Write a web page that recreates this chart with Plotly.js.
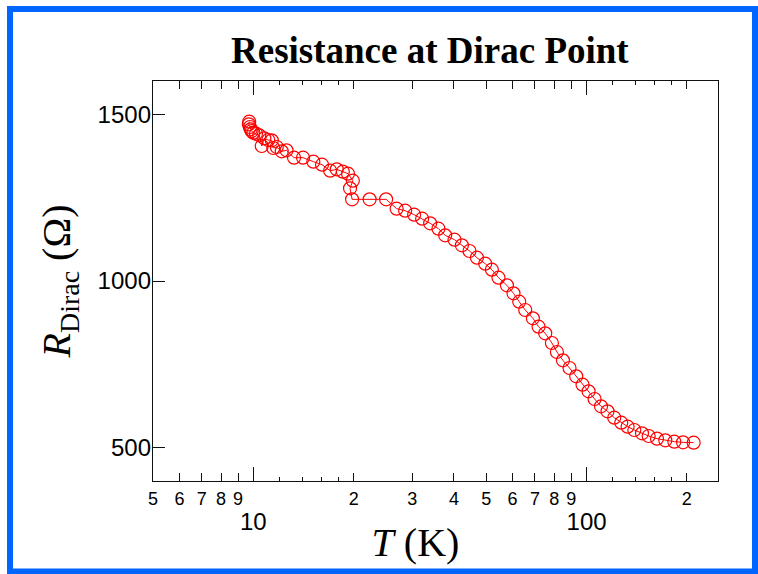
<!DOCTYPE html>
<html>
<head>
<meta charset="utf-8">
<script src="https://cdn.plot.ly/plotly-3.0.1.min.js"></script>
<style>html,body{margin:0;padding:0;background:#fff;}#chart{width:758px;height:574px;}</style>
</head>
<body>
<div id="chart"></div>
<script>
// Temperature (K)
const temperature = [9.72, 9.70, 9.77, 9.82, 9.89, 10.0, 10.19, 10.42, 10.60, 10.79, 11.09, 11.36, 11.48, 11.76, 12.17, 12.58, 13.25, 14.10, 15.14, 16.08, 17.00, 17.80, 18.56, 19.24, 19.89, 19.51, 19.79, 22.34, 25.03, 26.92, 28.55, 30.38, 32.11, 33.94, 35.94, 37.65, 40.15, 42.26, 44.54, 46.88, 49.65, 51.99, 54.42, 57.68, 60.37, 62.80, 65.46, 69.02, 71.76, 75.16, 78.72, 81.49, 84.94, 88.90, 93.11, 97.27, 101.4, 105.7, 110.5, 115.6, 121.1, 127.1, 132.8, 139.1, 146.7, 153.6, 162.7, 172.3, 183.4, 194.8, 209.6];
// Resistance at Dirac point (Ohm)
const resistance = [1478, 1470, 1462, 1455, 1450, 1445, 1442, 1437, 1405, 1428, 1423, 1422, 1399, 1402, 1389, 1392, 1370, 1370, 1358, 1349, 1331, 1335, 1328, 1322, 1301, 1278, 1245, 1245, 1245, 1217, 1211, 1199, 1187, 1173, 1157, 1137, 1124, 1107, 1090, 1070, 1052, 1034, 1010, 987, 963, 938, 913, 888, 863, 843, 814, 787, 762, 739, 714, 689, 669, 646, 624, 609, 590, 575, 563, 553, 543, 535, 527, 522, 518, 516, 515];

// Axis ticks
const xLabeledTicks = [5, 6, 7, 8, 9, 20, 30, 40, 50, 60, 70, 80, 90, 200];
const xLabeledText = ["5", "6", "7", "8", "9", "2", "3", "4", "5", "6", "7", "8", "9", "2"];
const xSubTicks = [12, 14, 16, 18, 120, 140, 160, 180];
const xDecadeTicks = [10, 100];
const xDecadeText = ["10", "100"];
const yTicks = [500, 1000, 1500];
const xRange = [5, 248];
const yRange = [400, 1600];

const serif = "Liberation Serif, Times New Roman, serif";
const sans = "Liberation Sans, Arial, sans-serif";

const data = [
  {
    type: "scatter",
    mode: "lines+markers",
    x: temperature,
    y: resistance,
    line: {color: "#ff0000", width: 1},
    marker: {symbol: "circle-open", size: 13, color: "#ff0000", line: {width: 1.2, color: "#ff0000"}},
    showlegend: false,
    hoverinfo: "x+y"
  },
  {
    type: "scatter",
    mode: "markers",
    x: [],
    y: [],
    xaxis: "x2",
    yaxis: "y",
    showlegend: false,
    hoverinfo: "skip"
  }
];

const pl = 153, pr = 718, pt = 81, pb = 481;
const W = pr - pl, H = pb - pt;
const px = v => (v - pl) / W;
const py = v => (pb - v) / H;

const layout = {
  width: 758,
  height: 574,
  autosize: false,
  margin: {l: pl, r: 758 - pr, t: pt, b: 574 - pb, pad: 0},
  paper_bgcolor: "#ffffff",
  plot_bgcolor: "#ffffff",
  showlegend: false,
  title: {
    text: "<b>Resistance at Dirac Point</b>",
    font: {family: serif, size: 37, color: "#000"},
    xref: "paper", x: 0.49, xanchor: "center",
    yref: "container", y: 1 - 50 / 574, yanchor: "middle"
  },
  xaxis: {
    type: "log",
    range: [Math.log10(xRange[0]), Math.log10(xRange[1])],
    showgrid: false, zeroline: false,
    showline: true, linecolor: "#111", linewidth: 1.2, mirror: "ticks",
    ticks: "inside", ticklen: 8, tickwidth: 1, tickcolor: "#111",
    tickmode: "array", tickvals: xLabeledTicks, ticktext: xLabeledText,
    tickfont: {family: sans, size: 18, color: "#000"},
    ticklabelstandoff: 1,
    minor: {tickmode: "array", tickvals: xSubTicks, ticks: "inside", ticklen: 4, tickwidth: 1, tickcolor: "#111", showgrid: false},
    title: {text: "<i>T</i> (K)\u00A0\u00A0\u00A0\u00A0\u200B", font: {family: serif, size: 40, color: "#000"}, standoff: 20},
    automargin: false
  },
  xaxis2: {
    type: "log",
    overlaying: "x",
    anchor: "y",
    side: "bottom",
    range: [Math.log10(xRange[0]), Math.log10(xRange[1])],
    showgrid: false, zeroline: false, showline: false, mirror: "ticks",
    ticks: "inside", ticklen: 14, tickwidth: 1, tickcolor: "#111",
    tickmode: "array", tickvals: xDecadeTicks, ticktext: xDecadeText,
    tickfont: {family: sans, size: 24, color: "#000"},
    ticklabelstandoff: 24,
    automargin: false
  },
  yaxis: {
    range: yRange,
    showgrid: false, zeroline: false,
    showline: true, linecolor: "#111", linewidth: 1.2, mirror: true,
    ticks: "inside", ticklen: 12, tickwidth: 1, tickcolor: "#111",
    tickmode: "array", tickvals: yTicks,
    tickfont: {family: sans, size: 24, color: "#000"},
    ticklabelstandoff: -4,
    title: {text: "<i>R</i><sub>Dirac</sub> (Ω)", font: {family: serif, size: 40, color: "#000"}, standoff: 14},
    automargin: false
  },
  shapes: [
    {
      type: "rect", xref: "paper", yref: "paper",
      x0: px(10), x1: px(755), y0: py(571.5), y1: py(9),
      line: {color: "#0066ff", width: 6},
      fillcolor: "rgba(0,0,0,0)",
      layer: "above"
    }
  ]
};

Plotly.newPlot("chart", data, layout, {displayModeBar: false, staticPlot: true});
</script>
</body>
</html>
